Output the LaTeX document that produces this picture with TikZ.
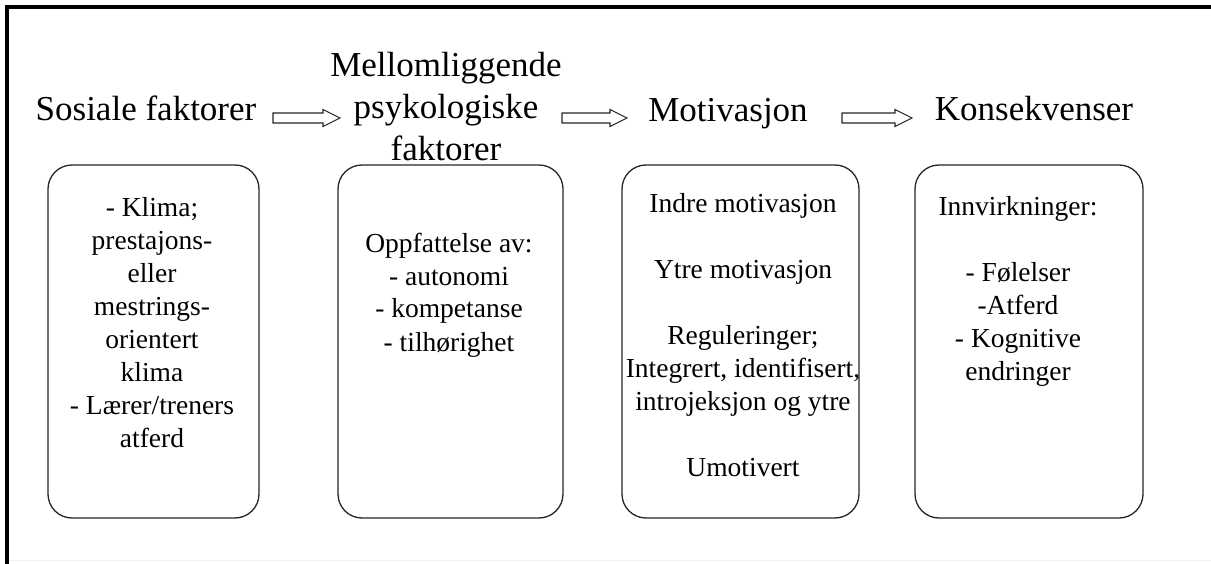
\documentclass[tikz,border=0pt]{standalone}
\usepackage{fontspec}
\setmainfont{Liberation Serif}
\usetikzlibrary{calc}
\newcommand\blkarrow[2]{%
  \draw[blk] let \p1=(#1), \p2=(#2) in
    (\x1,\y1+5pt) -- (\x2-17pt,\y1+5pt) -- (\x2-17pt,\y1+8.5pt) -- (\x2,\y1)
    -- (\x2-17pt,\y1-8.5pt) -- (\x2-17pt,\y1-5pt) -- (\x1,\y1-5pt) -- cycle;}
\begin{document}
\begin{tikzpicture}[x=1pt,y=-1pt,
  boxn/.style={draw=black!85, line width=1.3pt, rounded corners=24pt, inner sep=0pt},
  head/.style={font=\fontsize{35}{42}\selectfont, align=center, anchor=base, inner sep=0pt},
  body/.style={font=\fontsize{27.5}{33}\selectfont, align=center, anchor=base, inner sep=0pt},
  blk/.style={draw=black!85, line width=1.1pt, fill=white},
  frame/.style={draw=black, line width=3.5pt}]
\useasboundingbox[fill=white] (0,0) rectangle (1211,564);
% frame
\draw[gray!12, line width=1pt] (9,560) -- (1211,560);
\draw[frame] (7,564) -- (7,7) -- (1211,7);
% boxes
\node[boxn, minimum width=211pt, minimum height=353pt] (b1) at (153.5,341.5) {};
\node[boxn, minimum width=225pt, minimum height=353pt] (b2) at (450.5,341.5) {};
\node[boxn, minimum width=237pt, minimum height=353pt] (b3) at (740.5,341.5) {};
\node[boxn, minimum width=228pt, minimum height=353pt] (b4) at (1029,341.5) {};
% headings (anchor = baseline of the last line)
\node[head] (h1) at (146,121) {Sosiale faktorer};
\node[head] (h2) at (446,161) {Mellomliggende\\psykologiske\\faktorer};
\node[head] (h3) at (728,122) {Motivasjon};
\node[head] (h4) at (1034,121) {Konsekvenser};
% box texts (anchor = baseline of the last line)
\node[body] (t1) at (152,447) {- Klima;\\prestajons-\\eller\\mestrings-\\orientert\\klima\\- Lærer/treners\\atferd};
\node[body] (t2) at (449,351) {Oppfattelse av:\\- autonomi\\- kompetanse\\- tilhørighet};
\node[body] (t3) at (743,476) {Indre motivasjon\\[33pt]Ytre motivasjon\\[33pt]Reguleringer;\\Integrert, identifisert,\\introjeksjon og ytre\\[33pt]Umotivert};
\node[body] (t4) at (1018,380) {Innvirkninger:\\[33pt]- Følelser\\-Atferd\\- Kognitive\\endringer};
% arrows
\coordinate (a1s) at (273,118); \coordinate (a1e) at (340,118);
\coordinate (a2s) at (562,118); \coordinate (a2e) at (627,118);
\coordinate (a3s) at (842,118); \coordinate (a3e) at (912,118);
\blkarrow{a1s}{a1e}
\blkarrow{a2s}{a2e}
\blkarrow{a3s}{a3e}
\end{tikzpicture}
\end{document}
